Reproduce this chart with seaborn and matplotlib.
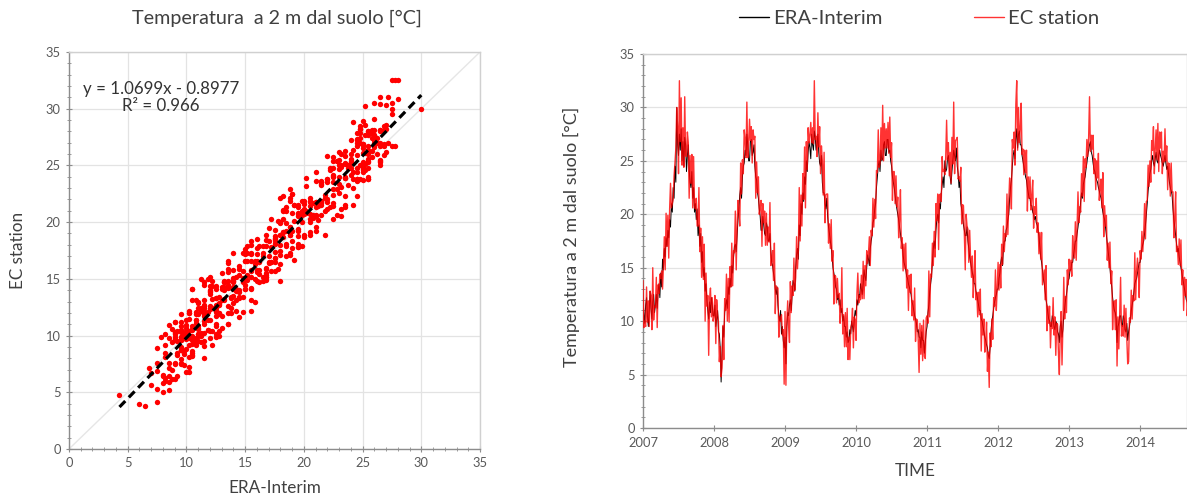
import numpy as np
import pandas as pd
import matplotlib
matplotlib.use("Agg")
import matplotlib.pyplot as plt
from matplotlib.ticker import MultipleLocator
import seaborn as sns

# ---------------- data (~4.5-day steps) ----------------
era_2007 = [12.0, 10.8, 9.8, 11.5, 12.2, 10.5, 9.5, 11.0, 12.8, 11.2, 10.2, 11.8, 12.5, 10.8, 11.5, 12.5, 11.2, 12.8, 13.5, 12.2,
            14.5, 13.2, 15.8, 14.8, 16.8, 16.0, 17.8, 17.0, 18.5, 17.8, 19.5, 18.8, 21.0, 20.2, 22.5, 21.5, 24.5, 23.0, 30.0, 26.5,
            25.5, 27.5, 26.0, 28.0, 25.0, 26.8, 24.5, 27.2, 26.5, 24.0, 25.5, 26.5, 24.2, 23.0, 22.5, 24.0, 21.5, 22.5, 20.2, 21.0,
            19.5, 20.5, 18.0, 19.0, 17.0, 18.2, 15.5, 16.5, 14.2, 15.0, 12.8, 13.5, 12.0, 11.0, 10.2, 11.8, 10.8, 12.2, 11.5, 10.5]
ec_2007 = [13.8, 9.4, 10.0, 9.5, 13.2, 9.9, 11.9, 9.5, 12.8, 12.4, 9.2, 15.0, 10.1, 11.4, 11.3, 14.1, 9.4, 13.4, 12.6, 14.4,
           14.0, 14.7, 13.0, 15.1, 17.9, 14.8, 20.1, 17.0, 19.9, 15.9, 20.5, 22.9, 20.6, 21.0, 21.4, 23.6, 24.8, 26.2, 30.0, 28.1,
           23.8, 32.5, 26.8, 30.9, 24.6, 28.1, 24.4, 31.0, 25.5, 25.4, 27.7, 26.7, 21.5, 25.5, 22.9, 25.6, 20.6, 25.4, 20.8, 20.5,
           21.5, 18.9, 18.9, 22.5, 16.5, 18.7, 14.1, 17.9, 13.9, 17.2, 10.0, 14.5, 11.4, 12.4, 6.8, 12.1, 13.1, 10.4, 12.2, 10.0]

era_2008 = [10.5, 11.5, 9.5, 10.2, 11.0, 9.0, 8.8, 7.5, 4.3, 7.0, 9.5, 8.5, 10.8, 11.5, 12.0, 11.2, 13.2, 12.5, 14.0, 13.2,
            15.2, 14.5, 16.0, 17.0, 17.2, 16.5, 18.0, 19.5, 20.5, 21.8, 22.5, 21.5, 23.5, 24.5, 24.8, 26.0, 25.5, 27.5, 26.5, 25.0,
            25.0, 26.8, 27.0, 25.5, 25.8, 26.5, 24.5, 23.5, 23.2, 22.0, 21.5, 20.5, 19.8, 18.5, 18.5, 19.8, 19.0, 18.2, 18.0, 19.2,
            18.8, 17.5, 17.5, 18.2, 16.5, 15.5, 15.2, 14.5, 14.0, 13.0, 12.5, 13.2, 11.5, 10.5, 10.0, 11.0, 8.8, 9.5, 8.2, 7.5]
ec_2008 = [10.5, 12.4, 7.9, 12.0, 10.7, 9.9, 6.2, 7.6, 4.8, 5.6, 9.6, 6.4, 12.1, 11.0, 14.4, 10.0, 14.0, 9.9, 15.1, 13.2,
           17.3, 13.3, 16.6, 16.4, 20.3, 14.8, 18.9, 21.3, 20.3, 18.9, 24.8, 21.9, 25.1, 23.8, 27.9, 27.0, 25.3, 30.5, 25.3, 26.5,
           28.9, 26.9, 28.2, 24.8, 27.9, 27.0, 27.3, 21.5, 24.9, 22.0, 23.5, 20.0, 20.6, 21.3, 17.0, 21.0, 19.2, 20.3, 17.1, 20.1,
           17.1, 18.8, 17.4, 21.1, 15.2, 15.7, 16.6, 13.8, 17.3, 10.7, 13.3, 13.1, 13.1, 8.5, 10.4, 10.0, 10.6, 8.7, 9.2, 4.1]

era_2009 = [8.5, 6.0, 9.5, 10.8, 10.5, 11.5, 12.0, 11.0, 12.5, 13.8, 13.5, 12.8, 15.0, 16.2, 16.8, 15.8, 19.0, 18.0, 21.0, 20.0,
            22.0, 21.2, 23.5, 22.8, 25.0, 24.0, 25.8, 26.8, 26.2, 25.2, 27.5, 26.5, 26.0, 27.8, 27.2, 26.0, 26.5, 27.5, 25.8, 24.8,
            24.5, 25.5, 23.0, 22.0, 22.0, 21.0, 20.5, 21.5, 19.8, 18.8, 18.2, 17.5, 17.0, 16.0, 15.0, 14.5, 14.0, 13.2, 13.0, 12.0,
            12.5, 11.5, 12.0, 10.8, 11.2, 10.0, 10.5, 9.5, 9.5, 8.5, 9.0, 8.0, 8.2, 9.2, 8.8, 10.0, 9.5, 9.0, 10.2, 11.0]
ec_2009 = [10.9, 4.0, 9.9, 11.9, 9.6, 8.0, 13.7, 10.8, 13.3, 12.4, 15.9, 12.9, 14.1, 17.9, 14.9, 16.6, 22.5, 17.5, 21.8, 18.9,
           23.8, 21.4, 26.3, 20.6, 26.8, 24.2, 28.1, 26.7, 27.4, 28.6, 26.7, 28.1, 26.6, 32.5, 27.0, 27.3, 25.4, 29.5, 26.3, 28.2,
           23.8, 26.4, 25.0, 21.8, 25.8, 19.2, 21.8, 21.9, 21.9, 17.3, 19.1, 16.8, 19.5, 15.6, 16.6, 11.6, 14.3, 14.2, 11.7, 14.0,
           12.2, 12.6, 9.8, 11.1, 15.0, 8.8, 10.6, 7.6, 10.8, 7.6, 11.2, 6.4, 8.5, 6.4, 9.4, 9.7, 11.2, 7.5, 10.4, 10.1]

era_2010 = [10.5, 12.0, 11.5, 12.5, 12.2, 13.5, 13.0, 12.5, 13.5, 14.8, 14.2, 13.8, 15.0, 16.2, 15.8, 15.2, 16.8, 17.5, 18.0, 19.2,
            19.5, 20.5, 21.0, 22.5, 23.5, 24.5, 25.0, 24.0, 26.0, 25.0, 25.2, 26.5, 26.8, 25.5, 25.5, 27.0, 27.0, 25.8, 26.0, 25.0,
            24.5, 23.5, 23.0, 22.5, 21.8, 21.0, 20.5, 20.0, 19.5, 18.8, 18.2, 17.5, 17.2, 16.2, 15.5, 15.2, 14.8, 14.2, 14.0, 13.5,
            13.2, 12.8, 12.5, 11.8, 11.5, 11.0, 10.5, 10.2, 9.8, 9.0, 9.2, 8.5, 8.5, 7.5, 9.0, 8.2, 8.2, 7.0, 8.0, 9.0]
ec_2010 = [8.2, 12.6, 14.5, 11.7, 12.4, 12.0, 14.3, 12.1, 15.6, 12.1, 15.2, 13.3, 16.6, 15.4, 16.3, 17.9, 15.2, 18.5, 18.0, 21.5,
           18.8, 21.4, 19.6, 24.1, 23.9, 27.9, 24.4, 24.8, 28.1, 25.1, 30.2, 25.0, 28.5, 26.2, 28.0, 26.2, 28.6, 25.7, 29.1, 25.3,
           26.7, 21.3, 24.0, 24.0, 21.0, 23.6, 20.7, 21.6, 17.8, 19.6, 22.3, 16.8, 17.8, 14.7, 17.2, 14.9, 17.3, 13.1, 14.8, 11.0,
           14.3, 12.7, 14.4, 10.5, 11.9, 10.1, 13.1, 8.1, 10.2, 10.1, 8.3, 5.2, 9.8, 6.9, 9.6, 6.3, 10.1, 6.7, 6.5, 10.3]

era_2011 = [9.5, 10.8, 11.5, 12.8, 13.5, 14.2, 15.5, 16.8, 17.5, 16.8, 18.5, 19.5, 20.0, 19.2, 21.0, 20.5, 22.0, 22.8, 23.5, 22.5,
            25.0, 24.0, 24.2, 25.2, 25.5, 24.5, 23.5, 22.8, 24.0, 25.0, 26.0, 25.5, 25.0, 26.2, 24.5, 23.8, 22.5, 23.2, 21.0, 20.5,
            19.8, 19.0, 18.5, 18.0, 18.0, 18.8, 17.5, 16.8, 16.0, 15.5, 15.0, 14.5, 14.2, 13.5, 13.5, 12.8, 12.5, 12.0, 11.5, 11.0,
            11.0, 10.2, 10.0, 9.5, 9.0, 8.5, 8.2, 7.8, 7.5, 6.8, 6.5, 7.5, 9.0, 10.0, 10.5, 11.2, 11.8, 12.2, 12.5, 13.0]
ec_2011 = [10.5, 9.8, 14.7, 10.4, 14.4, 14.1, 17.3, 15.2, 18.4, 16.0, 21.0, 19.4, 21.9, 16.7, 21.8, 21.9, 21.2, 25.4, 24.0, 24.2,
           23.7, 25.3, 28.8, 25.1, 26.7, 23.6, 25.8, 22.9, 27.2, 24.7, 30.5, 23.8, 26.9, 27.0, 27.2, 23.3, 23.5, 23.1, 24.4, 19.1,
           20.9, 20.8, 18.1, 14.8, 20.0, 18.9, 18.6, 15.5, 18.5, 15.8, 14.1, 16.1, 12.2, 14.2, 16.6, 12.0, 12.7, 10.4, 12.7, 10.6,
           13.0, 7.2, 10.7, 8.7, 10.2, 7.1, 8.1, 9.9, 5.3, 7.1, 3.8, 8.9, 7.6, 10.2, 8.3, 12.2, 11.4, 14.8, 11.0, 13.1]

era_2012 = [13.0, 14.0, 14.5, 15.5, 16.0, 15.2, 16.8, 17.5, 17.5, 18.5, 18.8, 19.5, 20.0, 21.5, 22.5, 23.2, 24.5, 25.5, 26.0, 25.2,
            27.0, 28.0, 26.2, 27.5, 27.8, 26.5, 26.5, 25.5, 25.0, 24.5, 24.0, 23.5, 23.2, 22.5, 22.0, 21.5, 21.5, 20.8, 20.8, 20.2,
            20.0, 19.5, 19.8, 19.2, 19.0, 18.5, 18.0, 17.0, 16.0, 15.5, 14.8, 14.0, 13.5, 12.8, 12.0, 11.5, 10.8, 10.2, 10.0, 9.5,
            9.5, 10.5, 10.2, 9.5, 9.2, 10.0, 9.8, 9.0, 8.8, 8.0, 9.5, 10.0, 8.5, 9.2, 10.5, 11.2, 12.0, 12.5, 13.2, 13.8]
ec_2012 = [15.5, 12.9, 15.3, 13.1, 17.2, 15.3, 18.9, 16.5, 18.2, 17.9, 21.9, 18.1, 21.1, 23.4, 22.4, 20.5, 27.0, 26.2, 27.7, 24.6,
           30.3, 32.5, 26.0, 30.0, 26.7, 28.0, 30.4, 25.6, 26.1, 23.7, 26.0, 23.9, 26.0, 20.3, 23.5, 21.5, 23.5, 20.4, 21.7, 23.2,
           18.7, 20.7, 20.0, 21.5, 18.3, 19.2, 16.3, 18.3, 15.8, 18.3, 13.4, 14.1, 14.8, 12.0, 15.2, 9.1, 11.4, 9.8, 11.4, 7.5,
           9.9, 9.3, 12.2, 8.7, 10.4, 6.8, 9.8, 9.7, 7.0, 5.0, 9.0, 10.9, 5.9, 9.5, 14.1, 10.2, 12.3, 10.8, 14.8, 13.4]

era_2013 = [14.0, 14.8, 14.8, 15.5, 15.5, 16.2, 16.8, 17.5, 17.5, 18.2, 18.8, 19.5, 20.0, 21.2, 22.0, 21.5, 22.8, 23.2, 23.5, 24.2,
            24.8, 25.5, 26.0, 26.5, 26.8, 25.8, 25.5, 24.8, 24.2, 24.0, 23.5, 23.2, 23.0, 22.5, 22.2, 21.8, 21.5, 20.8, 20.2, 19.8,
            19.5, 18.8, 18.0, 17.2, 16.5, 15.8, 15.0, 14.0, 13.2, 12.2, 11.5, 11.0, 10.8, 10.2, 8.0, 9.5, 9.8, 10.5, 10.5, 9.8,
            9.5, 10.5, 10.2, 9.2, 9.0, 9.8, 8.2, 9.0, 9.5, 10.2, 11.0, 11.5, 12.0, 12.8, 13.5, 13.8, 14.0, 14.5, 15.0, 15.5]
ec_2013 = [15.8, 14.7, 15.7, 14.2, 18.0, 16.5, 15.9, 19.3, 15.7, 19.1, 22.1, 19.2, 20.7, 20.2, 23.8, 21.7, 25.4, 21.2, 25.2, 24.4,
           27.0, 25.4, 27.2, 31.0, 25.9, 27.4, 26.1, 27.4, 23.8, 25.2, 22.3, 25.0, 23.4, 25.7, 21.3, 22.4, 23.3, 20.6, 23.9, 17.9,
           20.8, 18.9, 19.9, 15.7, 17.3, 15.0, 17.4, 13.5, 14.7, 9.2, 11.7, 11.9, 9.2, 12.0, 5.8, 10.4, 7.4, 10.8, 14.1, 8.6,
           9.6, 8.6, 11.5, 8.5, 11.2, 8.4, 6.0, 6.2, 10.3, 9.9, 12.9, 10.2, 12.4, 11.9, 16.4, 12.0, 14.7, 15.9, 14.5, 12.2]

era_2014 = [15.5, 16.2, 16.8, 17.2, 17.5, 18.2, 19.0, 20.0, 21.0, 22.2, 23.0, 23.8, 24.2, 25.0, 25.5, 24.8, 24.5, 25.2, 25.8, 25.0,
            24.8, 25.5, 26.0, 25.5, 25.2, 24.8, 24.5, 25.0, 25.5, 24.8, 24.2, 24.5, 23.8, 23.0, 22.5, 22.2, 21.8, 20.5, 19.5, 18.8,
            18.0, 17.2, 16.5, 16.8, 16.0, 15.5, 15.0, 14.5, 14.0, 13.5, 13.0, 12.5, 12.0, 11.8, 11.5]
ec_2014 = [16.6, 15.8, 18.4, 16.5, 18.1, 21.0, 17.7, 21.2, 21.3, 24.6, 22.6, 25.0, 23.0, 26.9, 26.0, 28.2, 23.8, 26.1, 27.9, 25.1,
           28.5, 24.0, 27.7, 26.2, 27.7, 23.8, 25.9, 24.9, 28.0, 25.0, 26.4, 22.3, 24.8, 24.7, 21.7, 24.8, 22.1, 22.1, 17.8, 19.6,
           22.1, 16.5, 17.0, 15.3, 17.7, 15.2, 17.6, 13.4, 14.8, 11.0, 14.1, 12.4, 13.9, 10.5, 11.9]

start_year = 2007
steps_per_year = 80
fit_slope = 1.0699
fit_intercept = -0.8977
fit_r2 = 0.966
year_ticks = [2007, 2008, 2009, 2010, 2011, 2012, 2013, 2014]

era = np.concatenate([era_2007, era_2008, era_2009, era_2010,
                      era_2011, era_2012, era_2013, era_2014])
ec = np.concatenate([ec_2007, ec_2008, ec_2009, ec_2010,
                     ec_2011, ec_2012, ec_2013, ec_2014])
time = start_year + np.arange(len(era)) / steps_per_year
df = pd.DataFrame({"time": time, "ERA-Interim": era, "EC station": ec})

# ---------------- style ----------------
sns.set_theme(style="white")
plt.rcParams["font.family"] = ["Lato", "DejaVu Sans"]
TXT = "#404040"
TICK = "#595959"
AXC = "#8c8c8c"
GRID = "#e3e3e3"

W, H = 1187, 499
fig = plt.figure(figsize=(W / 100, H / 100), dpi=100)
ax1 = fig.add_axes([69 / W, (H - 449) / H, 411 / W, 397 / H])
ax2 = fig.add_axes([643 / W, (H - 428) / H, 544 / W, 374 / H])

# ---------------- scatter ----------------
ax1.plot([0, 35], [0, 35], color="#e6e6e6", lw=1.0, zorder=1)
sns.scatterplot(data=df, x="ERA-Interim", y="EC station", ax=ax1,
                color="#ff0000", s=15, linewidth=0, zorder=3)
xs = np.array([era.min(), era.max()])
ax1.plot(xs, fit_slope * xs + fit_intercept, color="black", lw=2.3,
         ls=(0, (2.6, 1.6)), zorder=4)
ax1.text(0.224, 0.886,
         f"y = {fit_slope:.4f}x - {abs(fit_intercept):.4f}\nR\u00b2 = {fit_r2:.3f}",
         transform=ax1.transAxes, ha="center", va="center", fontsize=12.2,
         color="#333333", linespacing=1.1, zorder=5)
ax1.set_xlim(0, 35)
ax1.set_ylim(0, 35)
ax1.xaxis.set_major_locator(MultipleLocator(5))
ax1.yaxis.set_major_locator(MultipleLocator(5))
ax1.xaxis.set_minor_locator(MultipleLocator(1))
ax1.yaxis.set_minor_locator(MultipleLocator(1))
ax1.grid(True, which="major", color=GRID, lw=0.9)
ax1.set_xlabel("ERA-Interim", fontsize=12.3, color=TXT)
ax1.set_ylabel("EC station", fontsize=12.3, color=TXT)
ax1.xaxis.set_label_coords(0.5, -0.078)
ax1.yaxis.set_label_coords(-0.105, 0.5)
fig.text(277 / W, 1 - 18 / H, "Temperatura  a 2 m dal suolo [\u00b0C]",
         ha="center", va="center", fontsize=14.2, color=TXT)

# ---------------- time series ----------------
sns.lineplot(data=df, x="time", y="ERA-Interim", ax=ax2, color="black",
             lw=0.7, label="ERA-Interim", zorder=2)
sns.lineplot(data=df, x="time", y="EC station", ax=ax2, color="#ff0000",
             lw=1.0, alpha=0.8, label="EC station", zorder=3)
ax2.set_xlim(2007, 2014.66)
ax2.set_ylim(0, 35)
ax2.set_xticks(year_ticks)
ax2.set_xticklabels([str(y) for y in year_ticks])
ax2.yaxis.set_major_locator(MultipleLocator(5))
ax2.yaxis.set_minor_locator(MultipleLocator(1))
ax2.grid(True, axis="y", which="major", color=GRID, lw=0.9)
ax2.set_xlabel("TIME", fontsize=12.3, color=TXT)
ax2.set_ylabel("Temperatura a 2 m dal suolo [\u00b0C]", fontsize=13.0, color=TXT)
ax2.xaxis.set_label_coords(0.5, -0.094)
ax2.yaxis.set_label_coords(-0.116, 0.51)
handles, labels = ax2.get_legend_handles_labels()
ax2.get_legend().remove()
leg = fig.legend(handles, labels, loc="center", bbox_to_anchor=(919 / W, 1 - 18 / H),
                 ncol=2, frameon=False, fontsize=14.6, handlelength=1.5,
                 handletextpad=0.2, columnspacing=4.5, labelcolor=TXT)
for lh in leg.get_lines():
    lh.set_linewidth(1.0)

for ax in (ax1, ax2):
    ax.set_axisbelow(True)
    for side in ("left", "bottom"):
        ax.spines[side].set_color(AXC)
        ax.spines[side].set_linewidth(1.0)
    for side in ("top", "right"):
        ax.spines[side].set_color("#d0d0d0")
        ax.spines[side].set_linewidth(1.0)
    ax.tick_params(axis="both", which="major", direction="inout", length=5,
                   width=0.8, color=AXC, labelsize=9.3, labelcolor=TICK,
                   bottom=True, left=True)
    ax.tick_params(axis="both", which="minor", direction="inout", length=3,
                   width=0.6, color=AXC)
ax2.tick_params(axis="x", which="major", pad=4)
ax2.tick_params(axis="y", which="minor", left=True)
ax1.tick_params(axis="both", which="minor", left=True, bottom=True)

fig.savefig("out.png", dpi=100)
